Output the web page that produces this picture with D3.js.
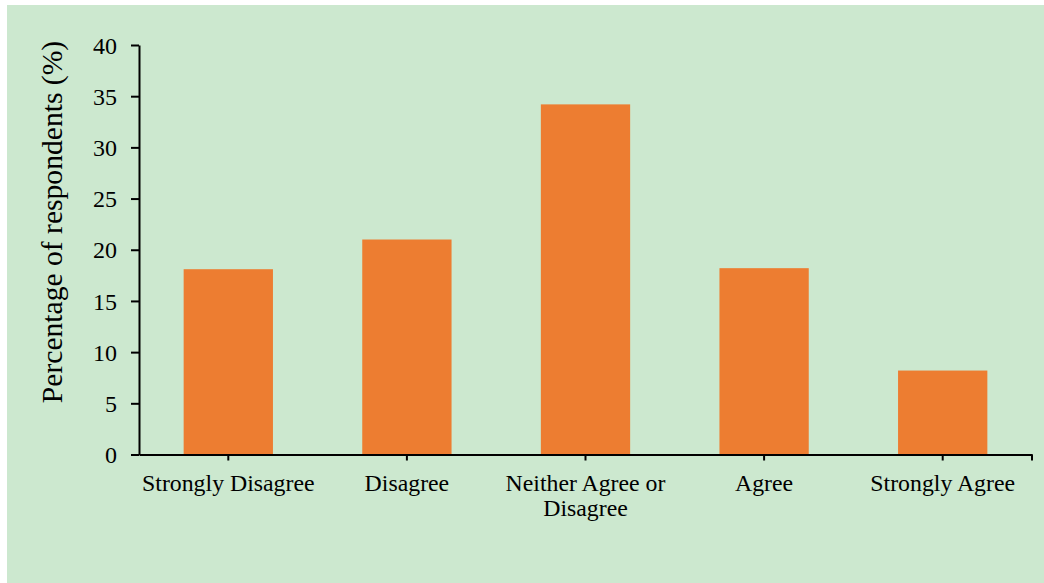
<!DOCTYPE html>
<html lang="en">
<head>
    <meta charset="UTF-8">
    <title>Percentage of respondents</title>
    <script src="https://cdnjs.cloudflare.com/ajax/libs/d3/7.8.5/d3.min.js"></script>
    <style>
        body { margin: 0; background: #fff; }
        text { font-family: "Liberation Serif", "Times New Roman", serif; fill: #000; }
        .axis path, .axis line { stroke: #000; stroke-width: 2px; }
    </style>
</head>
<body>
    <div id="chart"></div>

    <script>
        // data
        const categories = ["Strongly Disagree", "Disagree", "Neither Agree or Disagree", "Agree", "Strongly Agree"];
        const values = [18.1, 21.0, 34.2, 18.2, 8.2];
        const yTicks = [0, 5, 10, 15, 20, 25, 30, 35, 40];

        const width = 1044;
        const height = 583;

        const svg = d3.select("#chart").append("svg")
            .attr("width", width)
            .attr("height", height);

        // green panel
        svg.append("rect")
            .attr("x", 7).attr("y", 5)
            .attr("width", width - 7).attr("height", height - 5)
            .attr("fill", "#cce8cf");

        const x = d3.scaleBand()
            .domain(categories)
            .range([139, 1032])
            .paddingInner(0.5)
            .paddingOuter(0.25);

        const y = d3.scaleLinear()
            .domain([0, 40])
            .range([454.5, 45]);

        // bars
        svg.selectAll(".bar")
            .data(values)
            .join("rect")
            .attr("class", "bar")
            .attr("x", (d, i) => x(categories[i]))
            .attr("y", d => y(d))
            .attr("width", x.bandwidth())
            .attr("height", d => y(0) - y(d))
            .attr("fill", "#ed7d31");

        // y axis
        const yAxis = svg.append("g")
            .attr("class", "axis")
            .attr("transform", "translate(139,0)")
            .call(d3.axisLeft(y).tickValues(yTicks).tickSize(8).tickSizeOuter(0).tickPadding(14));
        yAxis.selectAll("text").style("font-size", "24px").attr("dy", "0.34em");

        // x axis
        const xAxis = svg.append("g")
            .attr("class", "axis")
            .attr("transform", `translate(0,${y(0)})`)
            .call(d3.axisBottom(x).tickSize(6).tickSizeOuter(0).tickPadding(14));
        xAxis.append("line")
            .attr("x1", x.range()[1]).attr("x2", x.range()[1])
            .attr("y1", 0).attr("y2", 6);

        xAxis.selectAll("text")
            .style("font-size", "23.8px")
            .attr("dy", null)
            .attr("y", 36)
            .each(function(d) { wrap(d3.select(this), d, 176); });

        function wrap(t, str, maxW) {
            const words = str.split(" ");
            t.text(null);
            let line = [];
            let ts = t.append("tspan").attr("x", 0).attr("y", 36);
            let n = 0;
            words.forEach(w => {
                line.push(w);
                ts.text(line.join(" "));
                if (ts.node().getComputedTextLength() > maxW && line.length > 1) {
                    line.pop();
                    ts.text(line.join(" "));
                    line = [w];
                    n++;
                    ts = t.append("tspan").attr("x", 0).attr("y", 36 + n * 25).text(w);
                }
            });
        }

        // y axis title
        svg.append("text")
            .attr("transform", "translate(62,222) rotate(-90)")
            .attr("text-anchor", "middle")
            .style("font-size", "29.6px")
            .text("Percentage of respondents (%)");
    </script>
</body>
</html>
